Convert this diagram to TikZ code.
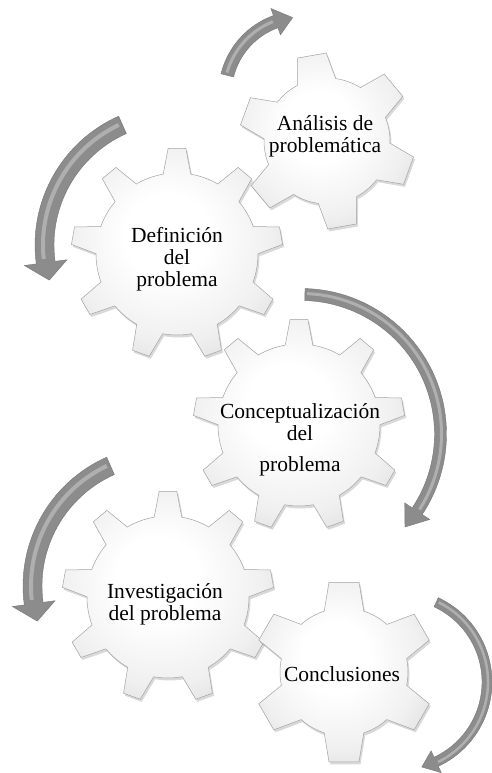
\documentclass[tikz,border=0pt]{standalone}
\usepackage{fontspec}
\setmainfont{Liberation Serif}

% soft light-grey body of the gears, brightest slightly above the centre
\pgfdeclareradialshading{gearshade}{\pgfpoint{-3bp}{5bp}}{%
  color(0bp)=(white); color(10bp)=(white); color(24bp)=(white!94!black);
  color(34bp)=(white!86!black); color(40bp)=(white!81!black); color(50bp)=(white!75!black)}

% gear outline: #1 teeth, #2 body radius, #3 tip radius,
% #4 half-angle of a tooth at its foot, #5 half-angle at its tip, #6 angle of the first tooth
\newcommand\gearpath[6]{%
  ({#6+#4}:#2)
  \foreach \k in {1,...,#1}{
    arc[start angle={#6+(\k-1)*360/#1+#4}, end angle={#6+\k*360/#1-#4}, radius=#2]
    -- ({#6+\k*360/#1-#5}:#3) -- ({#6+\k*360/#1+#5}:#3) -- ({#6+\k*360/#1+#4}:#2)
  } -- cycle}

% curved block arrow: #1 centre-line radius, #2 half shaft width, #3 half head width,
% #4 tail angle, #5 angle where the head starts, #6 angle of the tip
\newcommand\bentarrowpath[6]{%
  ({#4}:{#1+#2}) arc[start angle=#4, end angle=#5, radius={#1+#2}]
  -- ({#5}:{#1+#3}) -- ({#6}:#1) -- ({#5}:{#1-#3}) -- ({#5}:{#1-#2})
  arc[start angle=#5, end angle=#4, radius={#1-#2}] -- cycle}

\definecolor{arrowgray}{RGB}{140,140,140}
\definecolor{arrowedge}{RGB}{118,118,118}
\definecolor{arrowlight}{RGB}{188,188,188}

\tikzset{
  gearbody/.style={shade, shading=gearshade, draw=white!64!black, line width=0.5pt},
  gearshadow/.style={fill=black, opacity=0.15, shift={(1.5,-2.5)}},
  gearlabel/.style={align=center, inner sep=0pt, font=\fontsize{21.5}{22}\selectfont},
  arrowbody/.style={fill=arrowgray, draw=arrowedge, line width=0.4pt},
  arrowshine/.style={draw=arrowlight, opacity=0.75},
}

\begin{document}
\begin{tikzpicture}[x=1pt, y=1pt]
\fill[white] (0,0) rectangle (492,-773);
\useasboundingbox (0,0) rectangle (492,-773);

% gear 1: small gear, top right
\begin{scope}[shift={(327,-141)}]
  \fill[gearshadow] \gearpath{6}{63}{88}{18}{9.5}{100};
  \path[gearbody] \gearpath{6}{63}{88}{18}{9.5}{100};
\end{scope}
\node[gearlabel] (analisis) at (325,-136) {Análisis de\\problemática};

% gear 2
\begin{scope}[shift={(177,-254)}]
  \fill[gearshadow] \gearpath{9}{81}{106}{9.8}{4.8}{90};
  \path[gearbody] \gearpath{9}{81}{106}{9.8}{4.8}{90};
\end{scope}
\node[gearlabel] (definicion) at (177,-259) {Definición\\del\\problema};

% gear 3
\begin{scope}[shift={(299,-425)}]
  \fill[gearshadow] \gearpath{9}{81}{106}{9.8}{4.8}{90};
  \path[gearbody] \gearpath{9}{81}{106}{9.8}{4.8}{90};
\end{scope}
\node[gearlabel] (concepto) at (300,-440) {Conceptualización\\del\\[9pt]problema};

% gear 4
\begin{scope}[shift={(168,-597)}]
  \fill[gearshadow] \gearpath{9}{81}{106}{9.8}{4.8}{90};
  \path[gearbody] \gearpath{9}{81}{106}{9.8}{4.8}{90};
\end{scope}
\node[gearlabel] (investigacion) at (165,-604) {Investigación\\del problema};

% gear 5: small gear, bottom right
\begin{scope}[shift={(344,-672)}]
  \fill[gearshadow] \gearpath{6}{64}{91}{18}{9.5}{90};
  \path[gearbody] \gearpath{6}{64}{91}{18}{9.5}{90};
\end{scope}
\node[gearlabel] (conclusiones) at (342,-674) {Conclusiones};

% curved arrows
\begin{scope}[shift={(302,-94)}]
  \path[arrowbody] \bentarrowpath{77}{6.5}{14}{166}{110}{97};
  \draw[arrowshine, line width=3pt] (164:78) arc[start angle=164, end angle=112, radius=78];
\end{scope}
\begin{scope}[shift={(176,-245)}]
  \path[arrowbody] \bentarrowpath{131.5}{9.5}{21.5}{114}{187.7}{195.5};
  \draw[arrowshine, line width=4pt] (115.5:133) arc[start angle=115.5, end angle=186, radius=133];
\end{scope}
\begin{scope}[shift={(301,-434)}]
  \path[arrowbody] \bentarrowpath{139.5}{6}{15}{88.4}{-33.6}{-41.8};
  \draw[arrowshine, line width=3pt] (87.5:140.5) arc[start angle=87.5, end angle=-32.5, radius=140.5];
\end{scope}
\begin{scope}[shift={(164,-586)}]
  \path[arrowbody] \bentarrowpath{131.5}{9.5}{21.5}{114}{187.7}{195.5};
  \draw[arrowshine, line width=4pt] (115.5:133) arc[start angle=115.5, end angle=186, radius=133];
\end{scope}
\begin{scope}[shift={(399,-682)}]
  \path[arrowbody] \bentarrowpath{88}{5}{12}{65}{-65}{-75};
  \draw[arrowshine, line width=2.5pt] (63.5:89) arc[start angle=63.5, end angle=-64, radius=89];
\end{scope}
\end{tikzpicture}
\end{document}
